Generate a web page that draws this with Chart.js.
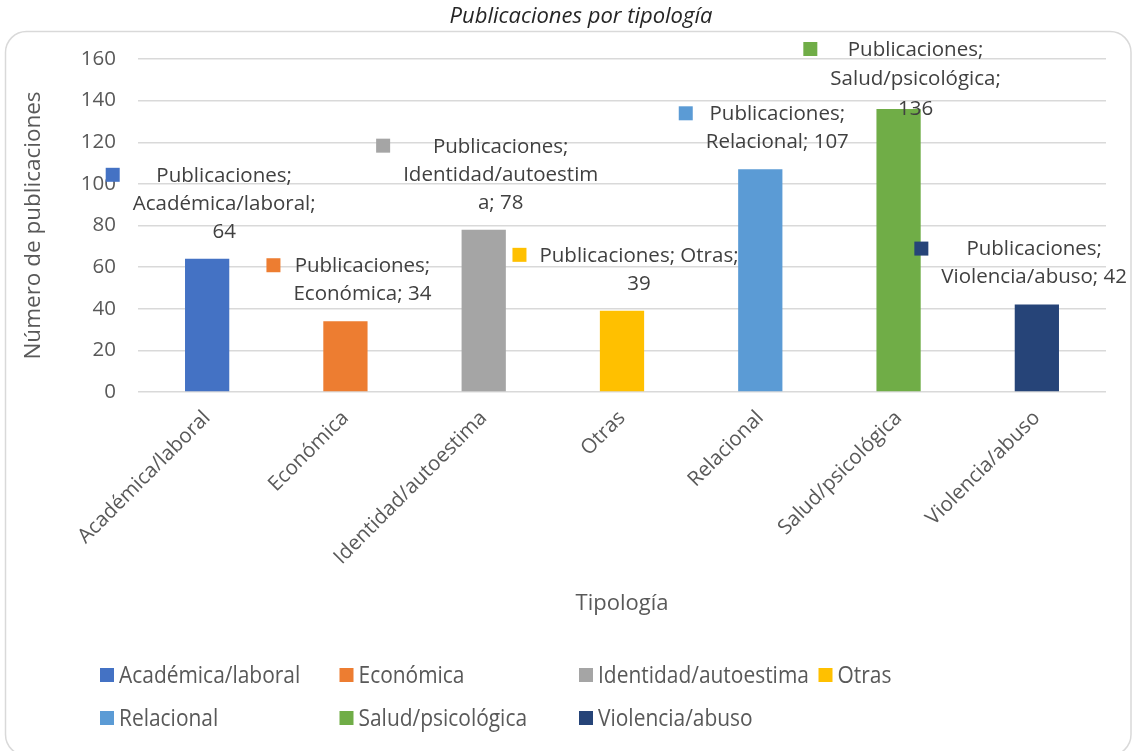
<!DOCTYPE html>
<html><head><meta charset="utf-8">
<script src="https://cdn.jsdelivr.net/npm/chart.js@4.4.1/dist/chart.umd.min.js"></script>
<style>html,body{margin:0;padding:0;background:#fff;}#wrap{width:1133px;height:751px;}</style>
</head><body><div id="wrap"><canvas id="c" width="1133" height="751"></canvas></div>
<script>
const chartTitle = 'Publicaciones por tipología';
const seriesName = 'Publicaciones';
const categories = ['Académica/laboral','Económica','Identidad/autoestima','Otras','Relacional','Salud/psicológica','Violencia/abuso'];
const values = [64, 34, 78, 39, 107, 136, 42];
const barColors = ['#4472C4','#ED7D31','#A5A5A5','#FFC000','#5B9BD5','#70AD47','#264478'];
const yTicks = [0, 20, 40, 60, 80, 100, 120, 140, 160];
const xAxisTitle = 'Tipología';
const yAxisTitle = 'Número de publicaciones';

const FONT = "'Open Sans', 'Noto Sans', sans-serif";

function wrapText(ctx, text, maxW) {
  const words = text.split(' ');
  const lines = [];
  let cur = '';
  for (const w of words) {
    const trial = cur ? cur + ' ' + w : w;
    if (ctx.measureText(trial).width <= maxW) { cur = trial; continue; }
    if (cur) { lines.push(cur); cur = ''; }
    if (ctx.measureText(w).width <= maxW) { cur = w; continue; }
    let piece = '';
    for (const ch of w) {
      if (ctx.measureText(piece + ch).width > maxW && piece) { lines.push(piece); piece = ch; }
      else piece += ch;
    }
    cur = piece;
  }
  if (cur) lines.push(cur);
  return lines;
}

const framePlugin = {
  id: 'frame',
  beforeDraw(chart) {
    const ctx = chart.ctx;
    ctx.save();
    ctx.fillStyle = '#ffffff';
    ctx.fillRect(0, 0, chart.width, chart.height);
    ctx.strokeStyle = '#d9d9d9';
    ctx.lineWidth = 1.5;
    ctx.beginPath();
    ctx.roundRect(5.5, 31.5, 1125.5, 724, 21);
    ctx.stroke();
    ctx.fillStyle = '#262626';
    ctx.font = "italic 22px " + FONT;
    ctx.textAlign = 'center';
    ctx.textBaseline = 'middle';
    ctx.fillText(chartTitle, 581, 17);
    ctx.restore();
  },
  afterDraw(chart) {
    const ctx = chart.ctx;
    const x0 = 100, colW = 239.5, y0 = 675, rowH = 43, box = 14, perRow = 4;
    ctx.save();
    categories.forEach((cat, i) => {
      const col = i % perRow, row = Math.floor(i / perRow);
      const x = x0 + col * colW, y = y0 + row * rowH;
      ctx.fillStyle = barColors[i];
      ctx.fillRect(x, y - box / 2, box, box);
      ctx.save();
      ctx.translate(x + box + 5, y + 1);
      ctx.scale(0.91, 1);
      ctx.fillStyle = '#595959';
      ctx.font = "23px " + FONT;
      ctx.textAlign = 'left';
      ctx.textBaseline = 'middle';
      ctx.fillText(cat, 0, 0);
      ctx.restore();
    });
    ctx.restore();
  }
};

const labelPlugin = {
  id: 'barLabels',
  afterDatasetsDraw(chart) {
    const ctx = chart.ctx;
    const meta = chart.getDatasetMeta(0);
    const lineH = 28, keySize = 14, keyGap = 13, maxW = 204, rightLimit = 1127, minFirstY = 50;
    ctx.save();
    ctx.font = "20.5px " + FONT;
    ctx.textBaseline = 'middle';
    ctx.textAlign = 'center';
    meta.data.forEach((bar, i) => {
      const text = seriesName + '; ' + categories[i] + '; ' + values[i];
      const lines = wrapText(ctx, text, maxW);
      const textW = Math.max(...lines.map(l => ctx.measureText(l).width));
      const blockW = keySize + keyGap + textW;
      let left = bar.x + 3.5 - blockW / 2;
      if (left + blockW > rightLimit) left = rightLimit - blockW;
      let firstY = bar.y - 27 - (lines.length - 1) * lineH;
      const lh = firstY < minFirstY ? 29.5 : lineH;
      if (firstY < minFirstY) firstY = minFirstY;
      ctx.fillStyle = barColors[i];
      ctx.fillRect(left, firstY - 8, keySize, keySize);
      ctx.fillStyle = '#404040';
      const cx = left + keySize + keyGap + textW / 2;
      lines.forEach((l, k) => ctx.fillText(l, cx, firstY + k * lh));
    });
    ctx.restore();
  }
};

new Chart(document.getElementById('c'), {
  type: 'bar',
  data: {
    labels: categories,
    datasets: [{
      label: seriesName,
      data: values,
      backgroundColor: barColors,
      borderWidth: 0,
      categoryPercentage: 1,
      barPercentage: 0.32
    }]
  },
  options: {
    responsive: false,
    animation: false,
    devicePixelRatio: 1,
    layout: { padding: { top: 59, left: 0, right: 27, bottom: 111 } },
    plugins: { legend: { display: false }, title: { display: false }, tooltip: { enabled: false } },
    scales: {
      x: {
        grid: { display: false },
        border: { display: false },
        ticks: { color: '#595959', font: { family: FONT, size: 20.5 }, minRotation: 45, maxRotation: 45, padding: 6, autoSkip: false },
        title: { display: true, text: xAxisTitle, color: '#595959', font: { family: FONT, size: 22 }, padding: { top: 0, bottom: 23 } },
        afterFit(s) { s.height = 248; }
      },
      y: {
        min: 0, max: 160,
        afterBuildTicks(s) { s.ticks = yTicks.map(v => ({ value: v })); },
        ticks: { color: '#595959', font: { family: FONT, size: 20.5 }, padding: 22 },
        grid: { color: '#d9d9d9', lineWidth: 1.5, drawTicks: false },
        border: { display: false },
        title: { display: true, text: yAxisTitle, color: '#595959', font: { family: FONT, size: 22.5 }, padding: { top: 20, bottom: 0 } },
        afterFit(s) { s.width = 138; }
      }
    }
  },
  plugins: [framePlugin, labelPlugin]
});
</script>
</body></html>
